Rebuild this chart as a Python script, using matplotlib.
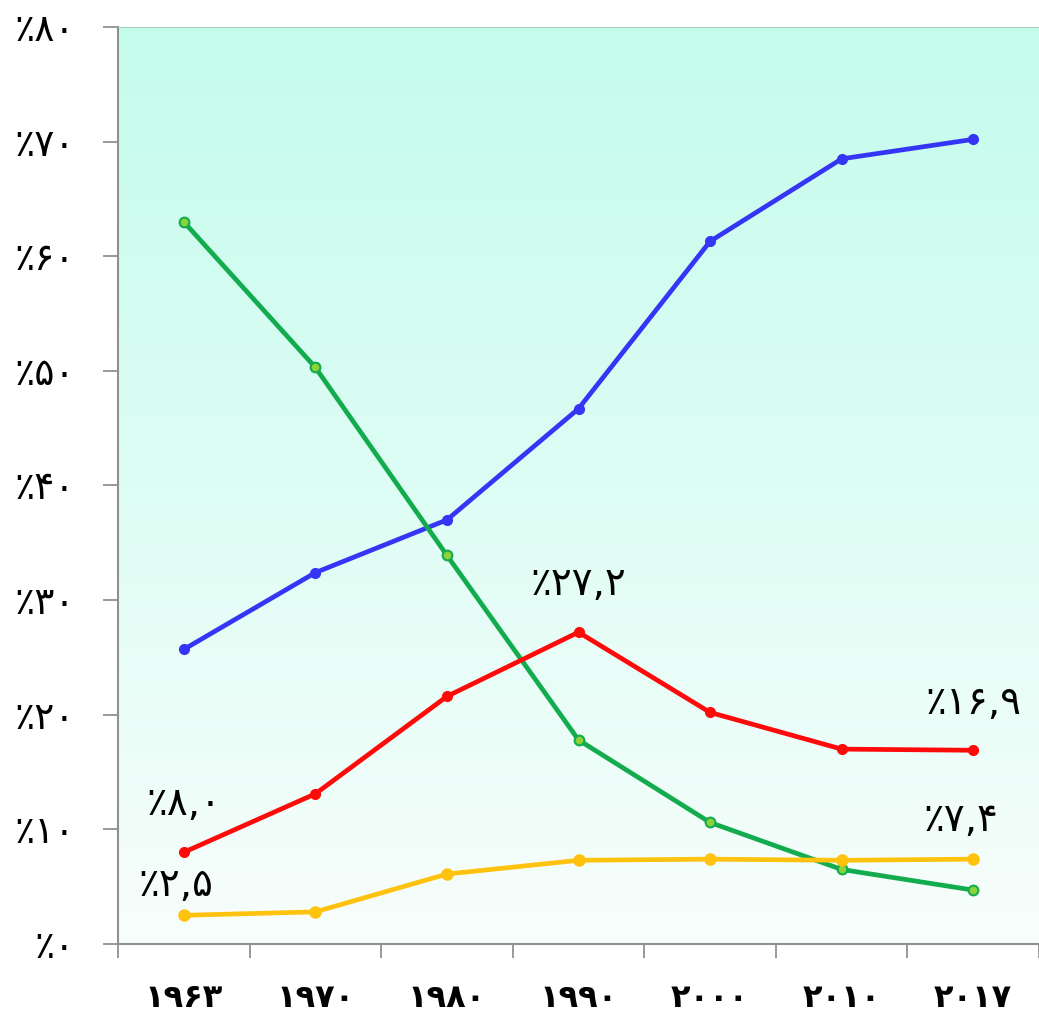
import numpy as np
import matplotlib.pyplot as plt
from matplotlib.colors import LinearSegmentedColormap

# years shown on the x axis (Persian digits)
years = ["۱۹۶۳", "۱۹۷۰", "۱۹۸۰", "۱۹۹۰", "۲۰۰۰", "۲۰۱۰", "۲۰۱۷"]

# shares in percent per series
blue_vals = [25.7, 32.4, 37.0, 46.7, 61.3, 68.5, 70.2]
green_vals = [63.0, 50.3, 33.9, 17.8, 10.6, 6.5, 4.7]
red_vals = [8.0, 13.1, 21.6, 27.2, 20.2, 17.0, 16.9]
yellow_vals = [2.5, 2.8, 6.1, 7.3, 7.4, 7.3, 7.4]

y_ticks = [0, 10, 20, 30, 40, 50, 60, 70, 80]
y_tick_labels = ["٪۰", "٪۱۰", "٪۲۰", "٪۳۰", "٪۴۰", "٪۵۰", "٪۶۰", "٪۷۰", "٪۸۰"]

FA_DIGITS = str.maketrans("0123456789.", "۰۱۲۳۴۵۶۷۸۹,")


def fa_pct(v):
    return "٪" + f"{v:.1f}".translate(FA_DIGITS)


plt.rcParams["font.family"] = ["DejaVu Sans"]

fig = plt.figure(figsize=(10.39, 10.16), dpi=100)
ax = fig.add_axes([0.1136, 0.0709, 0.8864, 0.9025])

x = np.arange(len(years))
ax.set_xlim(-0.5, len(years) - 0.5)
ax.set_ylim(0, 80)

# vertical gradient background
grad = LinearSegmentedColormap.from_list("bg", ["#f8fefc", "#c4fcec"])
ax.imshow(np.linspace(0, 1, 256).reshape(-1, 1), cmap=grad, aspect="auto",
          extent=(-0.5, len(years) - 0.5, 0, 80), origin="lower", zorder=0)

lw = 3.4
ax.plot(x, blue_vals, color="#3535f5", lw=lw, marker="o", ms=7, zorder=3)
ax.plot(x, green_vals, color="#12ac4e", lw=lw, marker="o", ms=7,
        markerfacecolor="#8ed23a", markeredgecolor="#12ac4e", markeredgewidth=1.5, zorder=3)
ax.plot(x, red_vals, color="#ff0a0a", lw=lw, marker="o", ms=7, zorder=4)
ax.plot(x, yellow_vals, color="#ffc20e", lw=lw, marker="o", ms=8, zorder=4)

# value labels
labels = [
    (0, red_vals[0], 0, 35),
    (0, yellow_vals[0], -6, 22),
    (3, red_vals[3], 0, 35),
    (6, red_vals[6], 0, 34),
    (6, yellow_vals[6], -9, 28),
]
for i, v, dx, dy in labels:
    ax.annotate(fa_pct(v), (x[i], v), xytext=(dx, dy), textcoords="offset points",
                ha="center", va="center", fontsize=28, color="black", zorder=5)

ax.set_yticks(y_ticks)
ax.set_yticklabels(y_tick_labels, fontsize=27)
ax.set_xticks(x)
ax.set_xticklabels(years, fontsize=23, fontweight="bold")

# ticks sit on the category boundaries, labels centred below
ax.set_xticks(np.arange(-0.5, len(years) + 0.5, 1), minor=True)
ax.tick_params(axis="x", which="major", length=0, pad=28)
ax.tick_params(axis="x", which="minor", length=10, width=1.2, color="#888888")
ax.tick_params(axis="y", length=11, width=1.2, color="#888888", pad=20)

for side in ("left", "bottom"):
    ax.spines[side].set_color("#909090")
    ax.spines[side].set_linewidth(1.5)
ax.spines["top"].set_color("#a8c8c0")
ax.spines["right"].set_visible(False)

fig.savefig("out.png", dpi=100)
